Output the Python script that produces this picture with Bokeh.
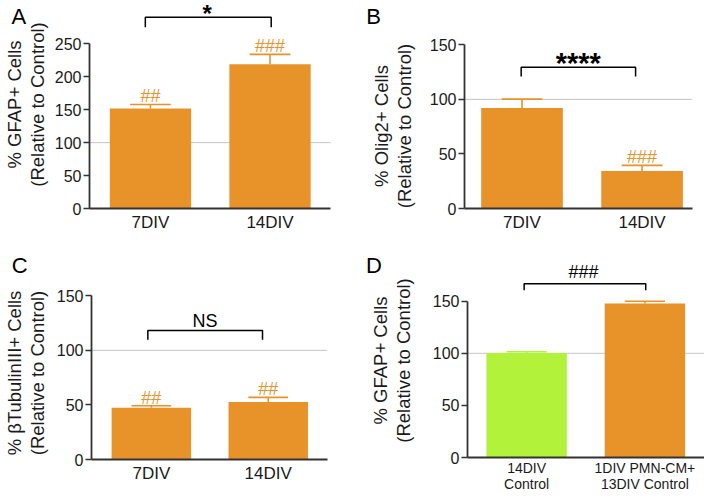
from bokeh.plotting import figure
from bokeh.models import Span, Label, FixedTicker, Range1d
from bokeh.layouts import column, row
from bokeh.embed import file_html
from bokeh.resources import INLINE
from bokeh.core.properties import value

FONT = "Liberation Sans"
ORANGE = "#E8922A"
GREEN = "#B2F23B"
AXIS = "#333333"

# ---- data ----
a_cats = ["7DIV", "14DIV"]
a_means = [152, 219]
a_sem = [6, 15]
a_marks = ["##", "###"]
a_ticks = [0, 50, 100, 150, 200, 250]

b_cats = ["7DIV", "14DIV"]
b_means = [92, 34.3]
b_sem = [8.2, 5.2]
b_marks = ["", "###"]
b_ticks = [0, 50, 100, 150]

c_cats = ["7DIV", "14DIV"]
c_means = [47.5, 52.7]
c_sem = [1.8, 4.2]
c_marks = ["##", "##"]
c_ticks = [0, 50, 100, 150]

d_cats = ["14DIV\nControl", "1DIV PMN-CM+\n13DIV Control"]
d_means = [100.3, 147.8]
d_sem = [1.2, 2.2]
d_marks = ["", ""]
d_ticks = [0, 50, 100, 150]

ref_level = 100


def panel(cats, means, sems, colors, marks, ylabel, yticks, cfg):
    p = figure(width=cfg["w"], height=cfg["h"], output_backend="svg",
               toolbar_location=None, title=None,
               x_range=Range1d(cfg["xr"][0], cfg["xr"][1]),
               y_range=Range1d(0, cfg["yend"]),
               min_border_left=cfg["bl"], min_border_right=cfg["br"],
               min_border_top=cfg["bt"], min_border_bottom=cfg["bb"])
    try:
        p.frame_align = False
    except Exception:
        pass
    p.outline_line_color = None
    p.xgrid.visible = False
    p.ygrid.visible = False

    xs = [i + 0.5 for i in range(len(cats))]
    tops = [m + s for m, s in zip(means, sems)]

    p.add_layout(Span(location=ref_level, dimension="width", line_color="#8a8a8a",
                      line_dash="1 1", line_width=1, level="underlay"))

    p.vbar(x=xs, top=means, bottom=0, width=0.68, fill_color=colors, line_color=None)
    p.segment(x0=xs, y0=means, x1=xs, y1=tops, line_color=colors, line_width=1.6)
    p.segment(x0=[x - 0.17 for x in xs], y0=tops, x1=[x + 0.17 for x in xs], y1=tops,
              line_color=colors, line_width=1.6)
    p.text(x=xs, y=tops, text=marks, text_align="center", text_baseline="alphabetic",
           y_offset=-8, text_font=value(FONT), text_font_size="18px", text_color=ORANGE)

    # significance bracket
    bx0, bx1, by, bdrop = cfg["bracket"]
    p.line(x=[bx0, bx0, bx1, bx1], y=[bdrop, by, by, bdrop], line_color="black", line_width=1.5)
    tx, ty, ttext, tsize, tstyle = cfg["btext"]
    p.text(x=[tx], y=[ty], text=[ttext], text_align="center", text_baseline="alphabetic",
           text_font=value(FONT), text_font_size=tsize, text_font_style=tstyle,
           text_color="black")

    # panel letter (in a side panel, so it is not clipped to the frame)
    lx, ly, ltext, lside = cfg["letter"]
    p.add_layout(Label(x=lx, y=ly, text=ltext, text_font=FONT, text_font_size="22px",
                       text_align="left", text_baseline="alphabetic",
                       text_color="black"), lside)

    # axes
    yax = p.yaxis[0]
    yax.ticker = FixedTicker(ticks=yticks)
    yax.bounds = (0, yticks[-1])
    yax.axis_label = ylabel
    yax.axis_label_text_font = FONT
    yax.axis_label_text_font_style = "normal"
    yax.axis_label_text_font_size = "18.5px"
    yax.axis_label_text_line_height = 1.1
    yax.axis_label_text_color = "#1a1a1a"
    yax.axis_label_standoff = cfg["lstand"]
    yax.major_label_text_font = FONT
    yax.major_label_text_font_size = "16px"
    yax.major_label_text_color = "#1a1a1a"
    yax.major_label_standoff = 2
    yax.major_tick_out = 6
    yax.major_tick_in = 0
    yax.minor_tick_line_color = None
    yax.axis_line_color = AXIS
    yax.axis_line_width = 1.8
    yax.major_tick_line_color = AXIS
    yax.major_tick_line_width = 1.5

    xax = p.xaxis[0]
    xax.ticker = FixedTicker(ticks=xs)
    xax.major_label_overrides = {x: c for x, c in zip(xs, cats)}
    xax.major_label_text_font = FONT
    xax.major_label_text_font_size = cfg["catfs"]
    xax.major_label_text_line_height = cfg.get("catlh", 1.2)
    xax.major_label_text_color = "#1a1a1a"
    xax.major_label_standoff = cfg.get("catstand", 4)
    xax.major_tick_out = 0
    xax.major_tick_in = 0
    xax.minor_tick_line_color = None
    xax.major_tick_line_color = None
    xax.axis_line_color = AXIS
    xax.axis_line_width = 1.8
    return p


pa = panel(a_cats, a_means, a_sem, [ORANGE, ORANGE], a_marks,
           "% GFAP+ Cells\n(Relative to Control)", a_ticks,
           dict(w=349, h=246, xr=(-0.01, 2.006), yend=315.8, bl=81, br=19, bb=38, bt=0,
                bracket=(0.457, 1.51, 290.4, 275.2),
                btext=(0.974, 295.5, "*", "24px", "bold"),
                letter=(-0.662, 291.9, "A", "right"), lstand=4, catfs="17px"))

pb = panel(b_cats, b_means, b_sem, [ORANGE, ORANGE], b_marks,
           "% Olig2+ Cells\n(Relative to Control)", b_ticks,
           dict(w=349, h=246, xr=(0.021, 1.92), yend=151.2, bl=115, br=6, bb=38, bt=43,
                bracket=(0.493, 1.446, 129.4, 120.9),
                btext=(0.969, 133.1, "****", "29px", "bold"),
                letter=(-0.798, 176.2, "B", "left"), lstand=12, catfs="17px"))

pc = panel(c_cats, c_means, c_sem, [ORANGE, ORANGE], c_marks,
           "% \u03b2TubulinIII+ Cells\n(Relative to Control)", c_ticks,
           dict(w=349, h=248, xr=(-0.012, 2.007), yend=158.5, bl=83, br=22, bb=35, bt=40,
                bracket=(0.47, 1.451, 118.2, 109.6),
                btext=(0.96, 127.3, "NS", "18px", "normal"),
                letter=(-0.694, 178.1, "C", "right"), lstand=6, catfs="17px"))

pd = panel(d_cats, d_means, d_sem, [GREEN, ORANGE], d_marks,
           "% GFAP+ Cells\n(Relative to Control)", d_ticks,
           dict(w=355, h=248, xr=(0.0, 2.004), yend=186.2, bl=118, br=0, bb=35, bt=17,
                bracket=(0.479, 1.507, 166.8, 160.5),
                btext=(0.98, 177.7, "###", "18px", "normal"),
                letter=(-0.859, 184.0, "D", "left"), lstand=16, catfs="14px", catlh=1.0,
                catstand=2))

layout = column(row(pa, pb), row(pc, pd))

open("out.html", "w").write(file_html(layout, INLINE))
